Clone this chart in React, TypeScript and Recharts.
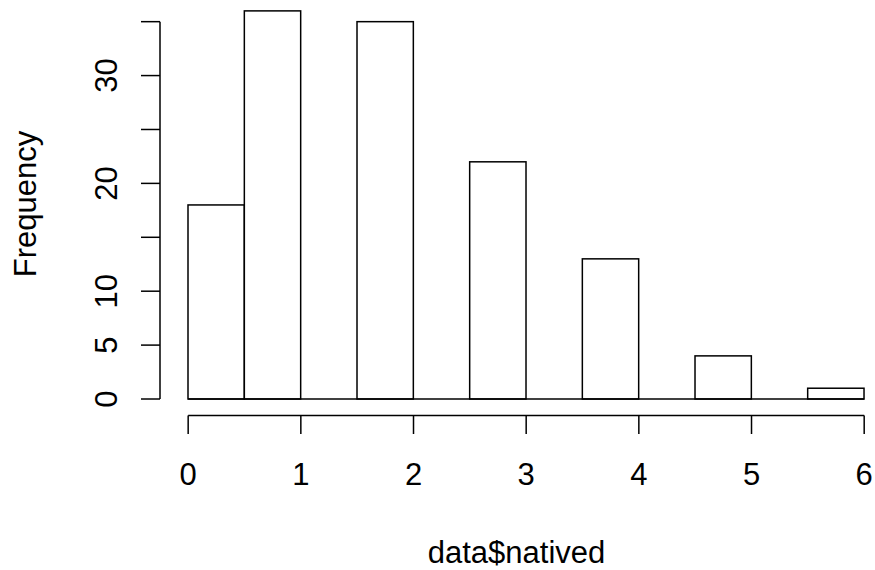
import { Bar, ComposedChart, Label, ReferenceLine, XAxis, YAxis } from "recharts";

// histogram bins (left edges) and their counts
const BIN_LO = [0, 0.5, 1, 1.5, 2, 2.5, 3, 3.5, 4, 4.5, 5, 5.5];
const COUNTS = [18, 36, 0, 35, 0, 22, 0, 13, 0, 4, 0, 1];
const BIN_WIDTH = 0.5;

const X_TICKS = [0, 1, 2, 3, 4, 5, 6];
const Y_TICKS = [0, 5, 10, 15, 20, 25, 30, 35];
const Y_LABELLED = [0, 5, 10, 20, 30];

const X_TITLE = "data$natived";
const Y_TITLE = "Frequency";

// layout (R base-graphics look)
const W = 875;
const H = 570;
const PLOT_LEFT = 160;
const PLOT_BOTTOM = 415.5;
const X_DOMAIN: [number, number] = [-0.25, 6.096];
const Y_DOMAIN: [number, number] = [-1.53, 37.01];
const FONT = "'Liberation Sans', Arial, sans-serif";
const FONT_SIZE = 31;
const INK = "#000";
const LW = 1.5;

const data = BIN_LO.map((lo, i) => ({ mid: lo + BIN_WIDTH / 2, count: COUNTS[i] }));

// pixel width of one bin on the x scale
const plotWidth = W - PLOT_LEFT;
const binPx = (BIN_WIDTH * plotWidth) / (X_DOMAIN[1] - X_DOMAIN[0]);

function HistBar({ x, y, width, height }: any) {
  if (!height || height <= 0) return null;
  const cx = x + width / 2;
  return (
    <rect x={cx - binPx / 2} y={y} width={binPx} height={height} fill="#fff" stroke={INK} strokeWidth={LW} />
  );
}

function XTick({ x, y, payload }: any) {
  return (
    <g>
      <line x1={x} x2={x} y1={y} y2={y + 18.5} stroke={INK} strokeWidth={LW} />
      <text x={x} y={y + 69.5} textAnchor="middle" fontFamily={FONT} fontSize={FONT_SIZE} fill={INK}>
        {payload.value}
      </text>
    </g>
  );
}

function YTick({ x, y, payload }: any) {
  const lx = x - 43;
  return (
    <g>
      <line x1={x - 19} x2={x} y1={y} y2={y} stroke={INK} strokeWidth={LW} />
      {Y_LABELLED.includes(payload.value) && (
        <text
          x={lx}
          y={y}
          transform={`rotate(-90, ${lx}, ${y})`}
          textAnchor="middle"
          fontFamily={FONT}
          fontSize={FONT_SIZE}
          fill={INK}
        >
          {payload.value}
        </text>
      )}
    </g>
  );
}

function XTitle({ viewBox }: any) {
  const cx = viewBox.x + viewBox.width / 2 - 1;
  return (
    <text x={cx} y={563.3} textAnchor="middle" fontFamily={FONT} fontSize={FONT_SIZE} fill={INK}>
      {X_TITLE}
    </text>
  );
}

function YTitle() {
  const x = 36;
  const y = 204;
  return (
    <text
      x={x}
      y={y}
      transform={`rotate(-90, ${x}, ${y})`}
      textAnchor="middle"
      fontFamily={FONT}
      fontSize={FONT_SIZE}
      fill={INK}
    >
      {Y_TITLE}
    </text>
  );
}

export default function App() {
  return (
    <div style={{ position: "absolute", left: 0, top: 0, width: W, height: H, background: "#fff", overflow: "hidden" }}>
      <ComposedChart
        width={W}
        height={H}
        data={data}
        margin={{ top: 0, right: 0, bottom: 0, left: 0 }}
        barCategoryGap="0%"
        barGap={0}
      >
        <XAxis
          dataKey="mid"
          type="number"
          domain={X_DOMAIN}
          allowDataOverflow
          ticks={X_TICKS}
          interval={0}
          axisLine={false}
          tickLine={false}
          tickSize={0}
          tickMargin={0}
          height={H - PLOT_BOTTOM}
          tick={<XTick />}
        >
          <Label content={<XTitle />} />
        </XAxis>
        <YAxis
          type="number"
          domain={Y_DOMAIN}
          allowDataOverflow
          ticks={Y_TICKS}
          interval={0}
          axisLine={false}
          tickLine={false}
          tickSize={0}
          tickMargin={0}
          width={PLOT_LEFT}
          tick={<YTick />}
        >
          <Label content={<YTitle />} />
        </YAxis>
        <Bar dataKey="count" shape={<HistBar />} isAnimationActive={false} />
        <ReferenceLine
          segment={[{ x: 0, y: 0 }, { x: 6, y: 0 }]}
          stroke={INK}
          strokeWidth={LW}
          ifOverflow="visible"
        />
        <ReferenceLine
          segment={[{ x: 0, y: Y_DOMAIN[0] }, { x: 6, y: Y_DOMAIN[0] }]}
          stroke={INK}
          strokeWidth={LW}
          ifOverflow="visible"
        />
        <ReferenceLine
          segment={[{ x: X_DOMAIN[0], y: 0 }, { x: X_DOMAIN[0], y: 35 }]}
          stroke={INK}
          strokeWidth={LW}
          ifOverflow="visible"
        />
      </ComposedChart>
    </div>
  );
}
